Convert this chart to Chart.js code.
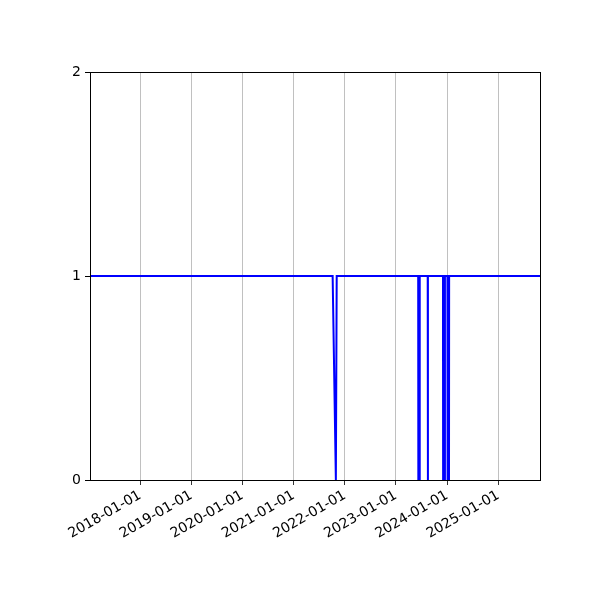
<!DOCTYPE html>
<html>
<head>
<meta charset="utf-8">
<script src="https://cdn.jsdelivr.net/npm/chart.js@4"></script>
<style>
  html, body { margin: 0; padding: 0; background: #ffffff; }
  #wrap { width: 600px; height: 600px; }
</style>
</head>
<body>
<div id="wrap"><canvas id="statusChart" width="600" height="600"></canvas></div>
<script>
// sample dates and the status value (1 = up, 0 = down)
const sampleDates = [
    '2017-01-07',
    '2021-10-06', '2021-10-29', '2021-11-04',
    '2023-06-09', '2023-06-10', '2023-06-19', '2023-06-20',
    '2023-08-16', '2023-08-17', '2023-08-18',
    '2023-12-03', '2023-12-04', '2023-12-16', '2023-12-17',
    '2024-01-04', '2024-01-05', '2024-01-15', '2024-01-16',
    '2025-10-26'
];
const statusValues = [
    1,
    1, 0, 1,
    1, 0, 0, 1,
    1, 0, 1,
    1, 0, 0, 1,
    1, 0, 0, 1,
    1
];
const yearTicks = [
    '2018-01-01', '2019-01-01', '2020-01-01', '2021-01-01',
    '2022-01-01', '2023-01-01', '2024-01-01', '2025-01-01'
];
const yTicks = [0, 1, 2];
const xStart = '2017-01-07';
const xEnd = '2025-10-26';

function Init()
{
    const ctx = document.getElementById('statusChart').getContext('2d');

    const points = [];
    for (let i = 0; i < sampleDates.length; i++)
    {
        points.push({ x: Date.parse(sampleDates[i]), y: statusValues[i] });
    }

    // matplotlib style box round the plot area
    const frame = {
        id: 'frame',
        afterDraw(chart) {
            const a = chart.chartArea;
            const c = chart.ctx;
            c.save();
            c.strokeStyle = '#000000';
            c.lineWidth = 1;
            c.strokeRect(Math.round(a.left) + 0.5, Math.round(a.top) + 0.5,
                Math.round(a.right - a.left), Math.round(a.bottom - a.top));
            c.restore();
        }
    };

    new Chart(ctx, {
        type: 'line',
        data: {
            datasets: [{
                data: points,
                borderColor: '#0000ff',
                borderWidth: 2,
                pointRadius: 0,
                tension: 0,
                fill: false
            }]
        },
        options: {
            responsive: false,
            animation: false,
            devicePixelRatio: 1,
            layout: { padding: { left: 0, top: 72, right: 60, bottom: 0 } },
            plugins: {
                legend: { display: false },
                tooltip: { enabled: false }
            },
            scales: {
                x: {
                    type: 'linear',
                    min: Date.parse(xStart),
                    max: Date.parse(xEnd),
                    afterBuildTicks: (scale) => {
                        scale.ticks = yearTicks.map(d => ({ value: Date.parse(d) }));
                    },
                    afterFit: (scale) => { scale.height = 120; },
                    grid: {
                        color: '#b0b0b0',
                        lineWidth: 0.8,
                        tickColor: '#000000',
                        tickLength: 5
                    },
                    border: { display: false },
                    ticks: {
                        color: '#000000',
                        font: { family: 'DejaVu Sans', size: 14 },
                        minRotation: 30,
                        maxRotation: 30,
                        autoSkip: false,
                        padding: 2,
                        callback: (v) => new Date(v).toISOString().slice(0, 10)
                    }
                },
                y: {
                    min: 0,
                    max: 2,
                    afterBuildTicks: (scale) => {
                        scale.ticks = yTicks.map(v => ({ value: v }));
                    },
                    afterFit: (scale) => { scale.width = 90; },
                    grid: {
                        drawOnChartArea: false,
                        tickColor: '#000000',
                        tickLength: 5
                    },
                    border: { display: false },
                    ticks: {
                        color: '#000000',
                        font: { family: 'DejaVu Sans', size: 14 },
                        padding: 4
                    }
                }
            }
        },
        plugins: [frame]
    });
}

Init();
</script>
</body>
</html>
